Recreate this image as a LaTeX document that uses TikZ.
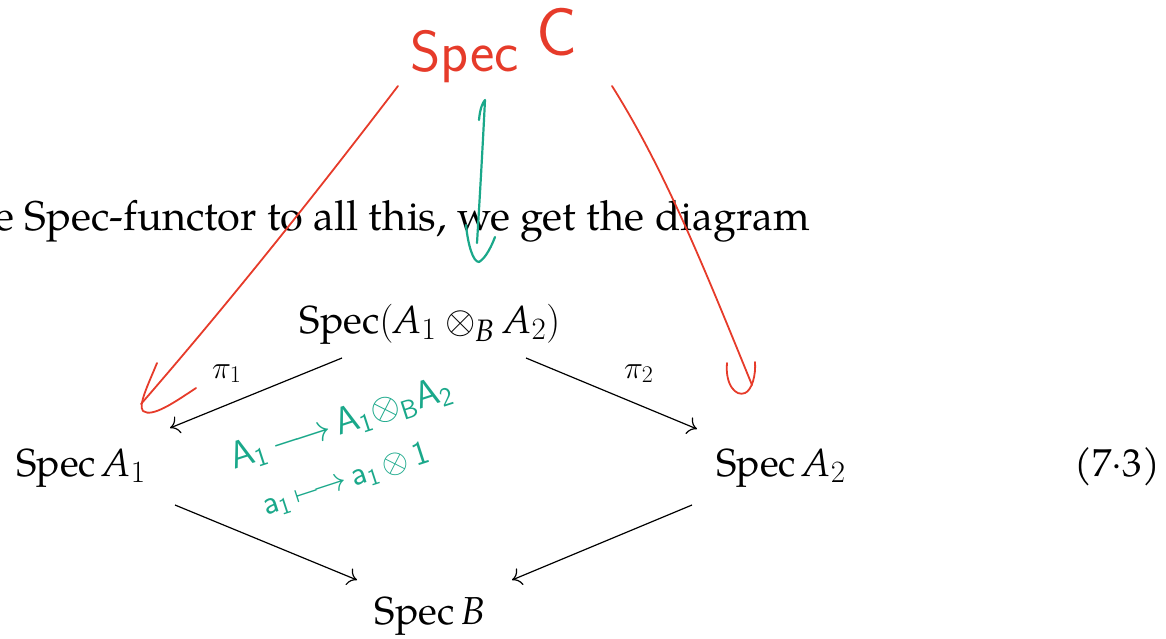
\RequirePackage{fix-cm}
\documentclass[tikz,border=0pt]{standalone}
\usepackage{fontspec}
\setmainfont{TeX Gyre Pagella}
\usetikzlibrary{arrows.meta}
\definecolor{inkred}{RGB}{230,59,42}
\definecolor{inkteal}{RGB}{26,168,138}
\DeclareMathSizes{39}{39}{31}{24}
\DeclareMathSizes{32}{32}{24}{18}
\newcommand{\mA}{\mathit{A}}
\newcommand{\mB}{\mathit{B}}
\begin{document}
\begin{tikzpicture}[x=1pt,y=-1pt,
  txt/.style={font=\fontsize{41.5}{48}\selectfont, inner sep=0pt},
  obj/.style={font=\fontsize{39}{46}\selectfont, inner sep=0pt, outer sep=0pt},
  arr/.style={line width=1.2pt, -{Computer Modern Rightarrow[length=9pt,width=18pt]}},
  lbl/.style={font=\fontsize{32}{34}\selectfont, inner sep=0pt},
  redink/.style={draw=inkred, line width=1.8pt, line cap=round, line join=round},
  tealink/.style={draw=inkteal, line width=2.2pt, line cap=round, line join=round},
  hand/.style={font=\sffamily\fontsize{58}{60}\selectfont, text=inkred, inner sep=0pt},
  tealtext/.style={text=inkteal, inner sep=0pt},
]
\useasboundingbox (0,0) rectangle (1166,639);
\clip (0,0) rectangle (1166,639);

% running text
\node[txt, anchor=base west] (line) at (-6,230) {e Spec-functor to all this, we get the diagram};

% diagram objects
\node[obj, anchor=base] (top) at (430,333) {Spec$(\mA_1\otimes_{\mB} \mA_2)$};
\node[obj, anchor=base] (left) at (81,476) {Spec\,$\mA_1$};
\node[obj, anchor=base] (right) at (781,476) {Spec\,$\mA_2$};
\node[obj, anchor=base] (bot) at (430,624) {Spec\,$\mB$};
\node[txt, anchor=base east, font=\fontsize{39}{46}\selectfont] (eqno) at (1160,476) {(7{$\cdot$}3)};

\node[lbl, anchor=base west] (p1) at (212,378) {$\pi_1$};
\node[lbl, anchor=base west] (p2) at (624,378) {$\pi_2$};

\draw[arr] ([shift={(-88,25)}]top.base) -- ([shift={(89,-48)}]left.base);
\draw[arr] ([shift={(96,25)}]top.base) -- ([shift={(-84,-47)}]right.base);
\draw[arr] ([shift={(94,29)}]left.base) -- ([shift={(-73,-44)}]bot.base);
\draw[arr] ([shift={(-89,29)}]right.base) -- ([shift={(82,-44)}]bot.base);

% handwritten annotations
\node[hand, anchor=base west] (specC) at (410,72) {Spec\hspace{18pt}\raisebox{16pt}{\fontsize{68}{68}\selectfont C}};

\coordinate (rl0) at (398,86);
\coordinate (rl1) at (141,404);
\draw[redink] (rl0) .. controls (330,175) and (240,290) .. (rl1);
\draw[redink] (157,363) .. controls (148,385) and (138,405) .. (143,411)
              .. controls (152,418) and (175,402) .. (196,388);

\coordinate (rr0) at (612,86);
\coordinate (rr1) at (752,385);
\draw[redink] (rr0) .. controls (665,170) and (705,270) .. (rr1);
\draw[redink] (727,363) .. controls (725,385) and (736,397) .. (745,393)
              .. controls (752,390) and (756,375) .. (755,362);

\coordinate (tv0) at (485,100);
\coordinate (tv1) at (477,243);
\draw[tealink] (479,120) .. controls (480,108) and (483,102) .. (tv0)
               .. controls (482,160) and (479,210) .. (tv1);
\draw[tealink] (466,225) .. controls (468,245) and (473,262) .. (479,262)
               .. controls (486,258) and (492,245) .. (495,237);

\node[tealtext, rotate=18, font=\sffamily\fontsize{38}{40}\selectfont] (m1) at (341,424)
  {A\textsubscript{1}\,$\longrightarrow$\,A\textsubscript{1}$\otimes$\textsubscript{B}A\textsubscript{2}};
\node[tealtext, rotate=18, font=\sffamily\fontsize{34}{36}\selectfont] (m2) at (346,480)
  {a\textsubscript{1}\,$\longmapsto$\,a\textsubscript{1}\,$\otimes$\,1};
\end{tikzpicture}
\end{document}
